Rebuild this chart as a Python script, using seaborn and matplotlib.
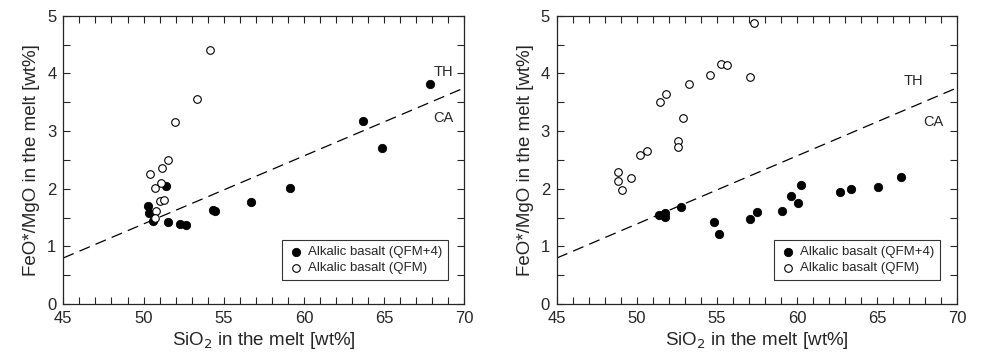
import matplotlib
matplotlib.use("Agg")
import matplotlib.pyplot as plt
import seaborn as sns
import pandas as pd
from matplotlib.ticker import MultipleLocator

sns.set_style("ticks")
plt.rcParams['font.family'] = ['Liberation Sans', 'DejaVu Sans']

# Left panel data
left_qfm4_x = [67.84, 63.70, 64.87, 59.11, 56.68, 54.35, 54.48, 51.38, 50.30, 50.34, 50.57, 51.53, 52.29, 52.65]
left_qfm4_y = [3.82, 3.18, 2.71, 2.02, 1.77, 1.63, 1.61, 2.05, 1.70, 1.58, 1.44, 1.42, 1.39, 1.37]
left_qfm_x = [54.12, 53.33, 51.96, 51.53, 51.15, 50.38, 51.07, 50.69, 51.00, 51.30, 50.76, 50.74]
left_qfm_y = [4.41, 3.55, 3.15, 2.50, 2.36, 2.25, 2.10, 2.02, 1.78, 1.80, 1.62, 1.49]

# Right panel data
right_qfm4_x = [66.48, 65.08, 63.38, 62.67, 60.23, 59.65, 60.08, 59.08, 57.50, 57.04, 54.79, 55.10, 52.77, 51.40, 51.75, 51.77]
right_qfm4_y = [2.20, 2.03, 1.99, 1.95, 2.06, 1.87, 1.76, 1.61, 1.59, 1.47, 1.42, 1.21, 1.68, 1.55, 1.58, 1.51]
right_qfm_x = [57.33, 55.27, 55.63, 54.58, 57.06, 53.25, 51.79, 51.46, 52.90, 52.58, 52.58, 50.60, 50.21, 48.79, 48.79, 49.63, 49.08]
right_qfm_y = [4.88, 4.16, 4.14, 3.97, 3.94, 3.82, 3.65, 3.51, 3.23, 2.83, 2.73, 2.66, 2.58, 2.29, 2.13, 2.18, 1.98]

# TH/CA boundary line
line_x = [45, 70]
line_y = [0.8, 3.75]

labels = ["Alkalic basalt (QFM+4)", "Alkalic basalt (QFM)"]
xlabel = "SiO$_2$ in the melt [wt%]"
ylabel = "FeO*/MgO in the melt [wt%]"

fig = plt.figure(figsize=(9.82, 3.62), dpi=100)
ax1 = fig.add_axes([0.0645, 0.160, 0.4084, 0.7964])
ax2 = fig.add_axes([0.5672, 0.160, 0.4073, 0.7964])

panels = [
    (ax1, left_qfm4_x, left_qfm4_y, left_qfm_x, left_qfm_y, (68.7, 4.03), (68.7, 3.23)),
    (ax2, right_qfm4_x, right_qfm4_y, right_qfm_x, right_qfm_y, (67.3, 3.87), (68.5, 3.16)),
]

for ax, fx, fy, ox, oy, th, ca in panels:
    sns.lineplot(x=line_x, y=line_y, ax=ax, color="black", lw=0.9,
                 linestyle=(0, (9, 5)), zorder=1)
    df_f = pd.DataFrame({"x": fx, "y": fy})
    df_o = pd.DataFrame({"x": ox, "y": oy})
    sns.scatterplot(data=df_f, x="x", y="y", ax=ax, color="black", s=36,
                    edgecolor="black", linewidth=0.6, label=labels[0], zorder=3)
    sns.scatterplot(data=df_o, x="x", y="y", ax=ax, facecolor="white", s=30,
                    edgecolor="black", linewidth=0.8, label=labels[1], zorder=3)
    ax.set_xlim(45, 70)
    ax.set_ylim(0, 5)
    ax.xaxis.set_major_locator(MultipleLocator(5))
    ax.xaxis.set_minor_locator(MultipleLocator(1))
    ax.yaxis.set_major_locator(MultipleLocator(1))
    ax.yaxis.set_minor_locator(MultipleLocator(0.5))
    ax.tick_params(which="both", direction="in", top=True, right=True,
                   length=5, width=0.8, labelsize=12, pad=5)
    for s in ax.spines.values():
        s.set_linewidth(0.9)
    ax.set_xlabel(xlabel, fontsize=13.5, labelpad=3)
    ax.set_ylabel(ylabel, fontsize=13.5, labelpad=5)
    ax.text(th[0], th[1], "TH", fontsize=10.5, ha="center", va="center")
    ax.text(ca[0], ca[1], "CA", fontsize=10.5, ha="center", va="center")
    leg = ax.legend(loc="lower right", bbox_to_anchor=(0.975, 0.06), fontsize=9.5,
                    frameon=True, fancybox=False, edgecolor="black",
                    handletextpad=0.3, borderpad=0.45, labelspacing=0.3,
                    handlelength=1.2)
    leg.get_frame().set_linewidth(0.8)

fig.savefig("out.png", dpi=100)
